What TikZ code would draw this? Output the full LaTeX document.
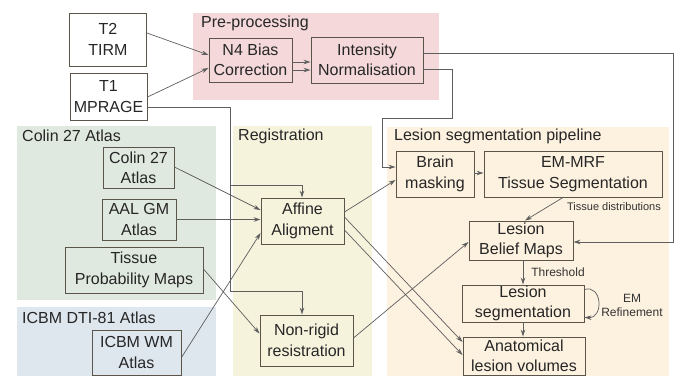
\documentclass[tikz,border=0pt]{standalone}
\usepackage{fontspec}
\setmainfont{Liberation Sans}
\usetikzlibrary{arrows.meta}
\definecolor{pinkbg}{HTML}{F5D9DA}
\definecolor{greenbg}{HTML}{DFE9DF}
\definecolor{bluebg}{HTML}{DEE6EE}
\definecolor{yellowbg}{HTML}{F6F3DD}
\definecolor{orangebg}{HTML}{FDF1DF}
\definecolor{boxline}{HTML}{5A5548}
\definecolor{conn}{HTML}{5E5E5E}
\tikzset{
  box/.style={draw=boxline, line width=0.95pt, fill=none, inner sep=0pt, align=center,
    font=\fontsize{16}{20.5}\selectfont, text=black!85},
  title/.style={anchor=west, font=\fontsize{16}{19}\selectfont, text=black!85, inner sep=0pt},
  small/.style={font=\fontsize{12}{14}\selectfont, text=black!80, inner sep=0pt, align=center},
  arr/.style={draw=conn, line width=0.7pt, -{Stealth[length=7pt,width=4.5pt]}},
  ln/.style={draw=conn, line width=0.7pt}
}
\begin{document}
\begin{tikzpicture}[x=1pt,y=-1pt]
\useasboundingbox (0,0) rectangle (675,376);
% regions
\fill[pinkbg] (193,13) rectangle (439,100);
\fill[greenbg] (17,126) rectangle (216,300);
\fill[bluebg] (17,307) rectangle (216,376);
\fill[yellowbg] (233,126) rectangle (372,376);
\fill[orangebg] (387,127) rectangle (669,376);
\node[title] (tpre) at (201,23) {Pre-processing};
\node[title] (tcol) at (22,136) {Colin 27 Atlas};
\node[title] (treg) at (238,136) {Registration};
\node[title] (tles) at (394,136) {Lesion segmentation pipeline};
\node[title] (ticb) at (22,318) {ICBM DTI-81 Atlas};
% nodes
\node[box, minimum width=77pt, minimum height=53pt] (t2) at (108,39.5) {T2\\TIRM};
\node[box, minimum width=77pt, minimum height=47pt] (t1) at (108.5,96.5) {T1\\MPRAGE};
\node[box, minimum width=83pt, minimum height=44pt] (n4) at (250.5,60) {N4 Bias\\Correction};
\node[box, minimum width=112pt, minimum height=46pt] (inorm) at (367,60) {Intensity\\Normalisation};
\node[box, minimum width=71pt, minimum height=41pt] (colin) at (138.5,168) {Colin 27\\Atlas};
\node[box, minimum width=74pt, minimum height=41pt] (aal) at (139,219.5) {AAL GM\\Atlas};
\node[box, minimum width=138pt, minimum height=46pt] (tpm) at (134,270) {Tissue\\Probability Maps};
\node[box, minimum width=89pt, minimum height=45pt] (icbm) at (136.5,352.5) {ICBM WM\\Atlas};
\node[box, minimum width=83pt, minimum height=46pt] (affine) at (302.5,221) {Affine\\Aligment};
\node[box, minimum width=93pt, minimum height=51pt] (nonrigid) at (306.5,340.5) {Non-rigid\\resistration};
\node[box, minimum width=78pt, minimum height=46pt] (brain) at (435,174) {Brain\\masking};
\node[box, minimum width=178pt, minimum height=46pt] (emmrf) at (573,174) {EM-MRF\\Tissue Segmentation};
\node[box, minimum width=104pt, minimum height=39pt] (lbm) at (521,240.5) {Lesion\\Belief Maps};
\node[box, minimum width=122pt, minimum height=37pt] (lseg) at (523,303.5) {Lesion\\segmentation};
\node[box, minimum width=122pt, minimum height=38pt] (anat) at (524,356) {Anatomical\\lesion volumes};
% labels
\node[small, font=\fontsize{11}{13}\selectfont] (ltd) at (614,207) {Tissue distributions};
\node[small] (lth) at (558,272) {Threshold};
\node[small] (lem) at (632,305) {EM\\Refinement};
% coordinates
\coordinate (c1) at (673,53);
\coordinate (c2) at (452,69);
\coordinate (c3) at (452,118);
\coordinate (c4) at (382,118);
\coordinate (c5) at (230,107);
\coordinate (c6) at (230,291);
\coordinate (c7) at (230,185);
% connectors
\draw[arr] ([yshift=6.5pt]t2.east) -- ([yshift=5pt]n4.west);
\draw[arr] ([yshift=-0.5pt]t1.east) -- ([yshift=-8pt]n4.west);
\draw[arr] ([yshift=-2pt]n4.east) -- ([yshift=-2pt]inorm.west);
\draw[arr] ([yshift=-10pt]n4.east) -- ([yshift=-10pt]inorm.west);
\draw[arr] ([yshift=7pt]inorm.east) -- (c1) |- ([yshift=-1.5pt]lbm.east);
\draw[arr] ([yshift=-9pt]inorm.east) -- (c2) -- (c3) -- (c4) |- ([yshift=7pt]brain.west);
\draw[ln] ([yshift=-10.5pt]t1.east) -- (c5) -- (c6);
\draw[arr] (c6) -| ([xshift=-4.5pt]nonrigid.north);
\draw[arr] (c7) -| ([xshift=-0.5pt]affine.north);
\draw[arr] ([yshift=1pt]colin.east) -- ([yshift=11pt]affine.west);
\draw[arr] (aal.east) -- (affine.west |- aal.east);
\draw[arr] ([yshift=-5pt]icbm.east) -- ([yshift=-12pt]affine.west);
\draw[arr] ([yshift=1pt]tpm.east) -- ([yshift=7pt]nonrigid.west);
\draw[arr] ([yshift=9pt]affine.east) -- ([yshift=-6pt]brain.west);
\draw[arr] ([yshift=4pt]affine.east) -- ([yshift=14pt]anat.west);
\draw[arr] ([yshift=-9pt]affine.east) -- ([yshift=1pt]anat.west);
\draw[arr] ([yshift=2.5pt]nonrigid.east) -- ([yshift=-1.5pt]lbm.west);
\draw[arr] ([yshift=1pt]brain.east) -- ([yshift=1pt]emmrf.west);
\draw[arr] ([xshift=-10pt]emmrf.south) -- ([xshift=4pt]lbm.north);
\draw[arr] ([xshift=2pt]lbm.south) -- (lseg.north);
\draw[arr] (lseg.south) -- (lseg.south |- anat.north);
\draw[arr] ([yshift=14pt]lseg.east) .. controls (602,284) and (604,318) .. ([yshift=-14pt]lseg.east);
\end{tikzpicture}
\end{document}
